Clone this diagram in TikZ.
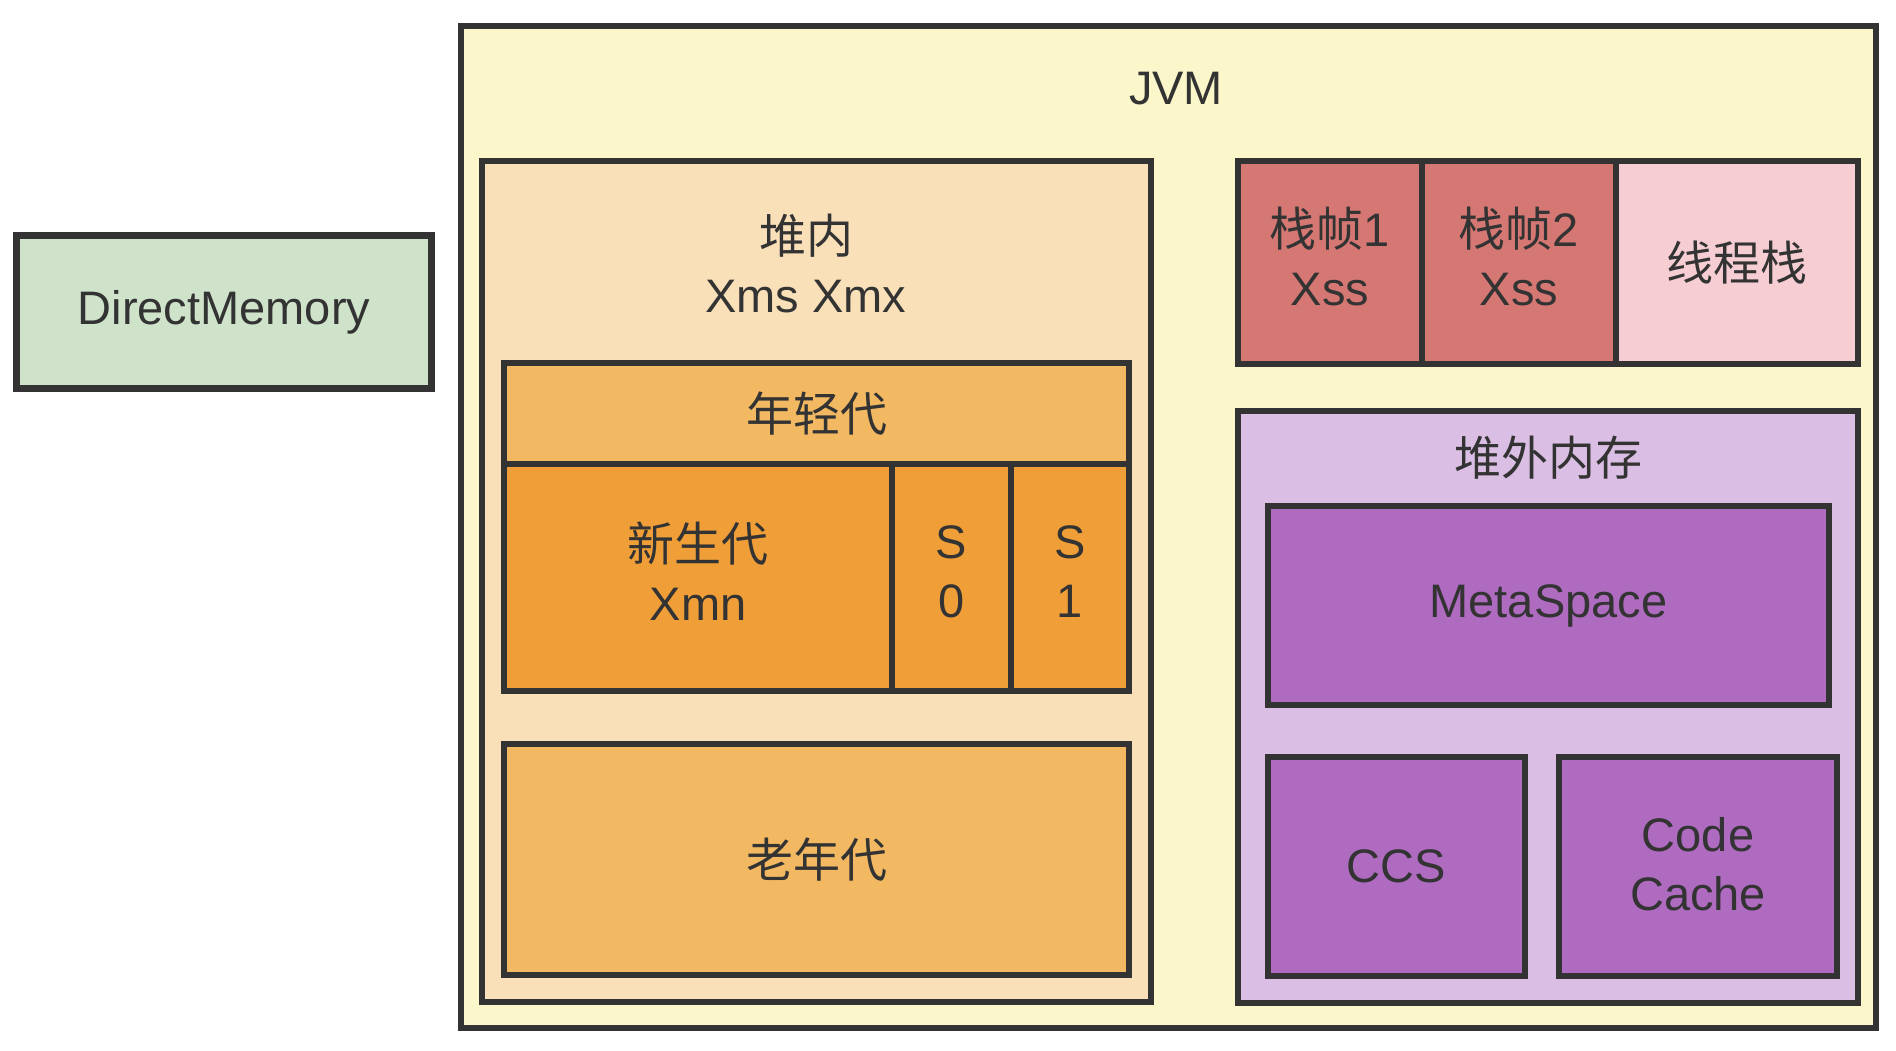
\documentclass[tikz,border=0pt]{standalone}
\usepackage{fontspec}
\setmainfont{Liberation Sans}
\newfontfamily\cjk{Noto Sans CJK SC}
\definecolor{strokec}{HTML}{333333}
\definecolor{jvmfill}{HTML}{FCF7CB}
\definecolor{heapfill}{HTML}{F9E0B8}
\definecolor{lightorange}{HTML}{F2B962}
\definecolor{darkorange}{HTML}{F09E38}
\definecolor{framered}{HTML}{D57874}
\definecolor{pinkfill}{HTML}{F6CDD3}
\definecolor{lilac}{HTML}{DBBEE3}
\definecolor{purplefill}{HTML}{AE6BC0}
\definecolor{greenfill}{HTML}{CFE3CA}
\begin{document}
\begin{tikzpicture}[x=1pt,y=-1pt,
  txt/.style={text=strokec, align=center, font=\fontsize{47}{59}\selectfont},
  box/.style={txt, draw=strokec, line width=6.6pt, rectangle, inner sep=0pt, outer sep=0pt},
  lbl/.style={txt, inner sep=0pt}]
\useasboundingbox[fill=white] (0,0) rectangle (1896,1050);
% DirectMemory
\node[box, fill=greenfill, minimum width=415pt, minimum height=153pt] (dm) at (224,312) {DirectMemory};
% JVM
\node[box, fill=jvmfill, minimum width=1415pt, minimum height=1002pt] (jvm) at (1168.5,527) {};
\node[lbl, anchor=base] (jvmlbl) at (1176,104) {JVM};
% Heap
\node[box, fill=heapfill, minimum width=669pt, minimum height=841pt] (heap) at (816.5,581.5) {};
\node[lbl] (heaplbl) at (806,263) {{\cjk 堆内}\\Xms Xmx};
\node[box, fill=lightorange, minimum width=625pt, minimum height=101pt] (young) at (816.5,413.5) {\cjk 年轻代};
\node[box, fill=darkorange, minimum width=388pt, minimum height=227pt, text depth=12pt] (eden) at (698,577.5) {{\cjk 新生代}\\Xmn};
\node[box, fill=darkorange, minimum width=119pt, minimum height=227pt, text depth=12pt] (s0) at (951.5,577.5) {S\\0};
\node[box, fill=darkorange, minimum width=118pt, minimum height=227pt, text depth=12pt] (s1) at (1070,577.5) {S\\1};
\node[box, fill=lightorange, minimum width=625pt, minimum height=231pt] (old) at (816.5,859.5) {\cjk 老年代};
% Stack
\node[box, fill=framered, minimum width=184pt, minimum height=203pt, text depth=12pt] (f1) at (1330,262.5) {{\cjk 栈帧}1\\Xss};
\node[box, fill=framered, minimum width=194pt, minimum height=203pt, text depth=12pt] (f2) at (1519,262.5) {{\cjk 栈帧}2\\Xss};
\node[box, fill=pinkfill, minimum width=242pt, minimum height=203pt] (ts) at (1737,262.5) {\cjk 线程栈};
% Off-heap
\node[box, fill=lilac, minimum width=620pt, minimum height=592pt] (offheap) at (1548,707) {};
\node[lbl] (offlbl) at (1548,458) {\cjk 堆外内存};
\node[box, fill=purplefill, minimum width=561pt, minimum height=199pt] (meta) at (1548.5,605.5) {MetaSpace};
\node[box, fill=purplefill, minimum width=257pt, minimum height=219pt] (ccs) at (1396.5,866.5) {CCS};
\node[box, fill=purplefill, minimum width=278pt, minimum height=219pt, text depth=6pt] (cc) at (1698,866.5) {Code\\Cache};
\end{tikzpicture}
\end{document}
